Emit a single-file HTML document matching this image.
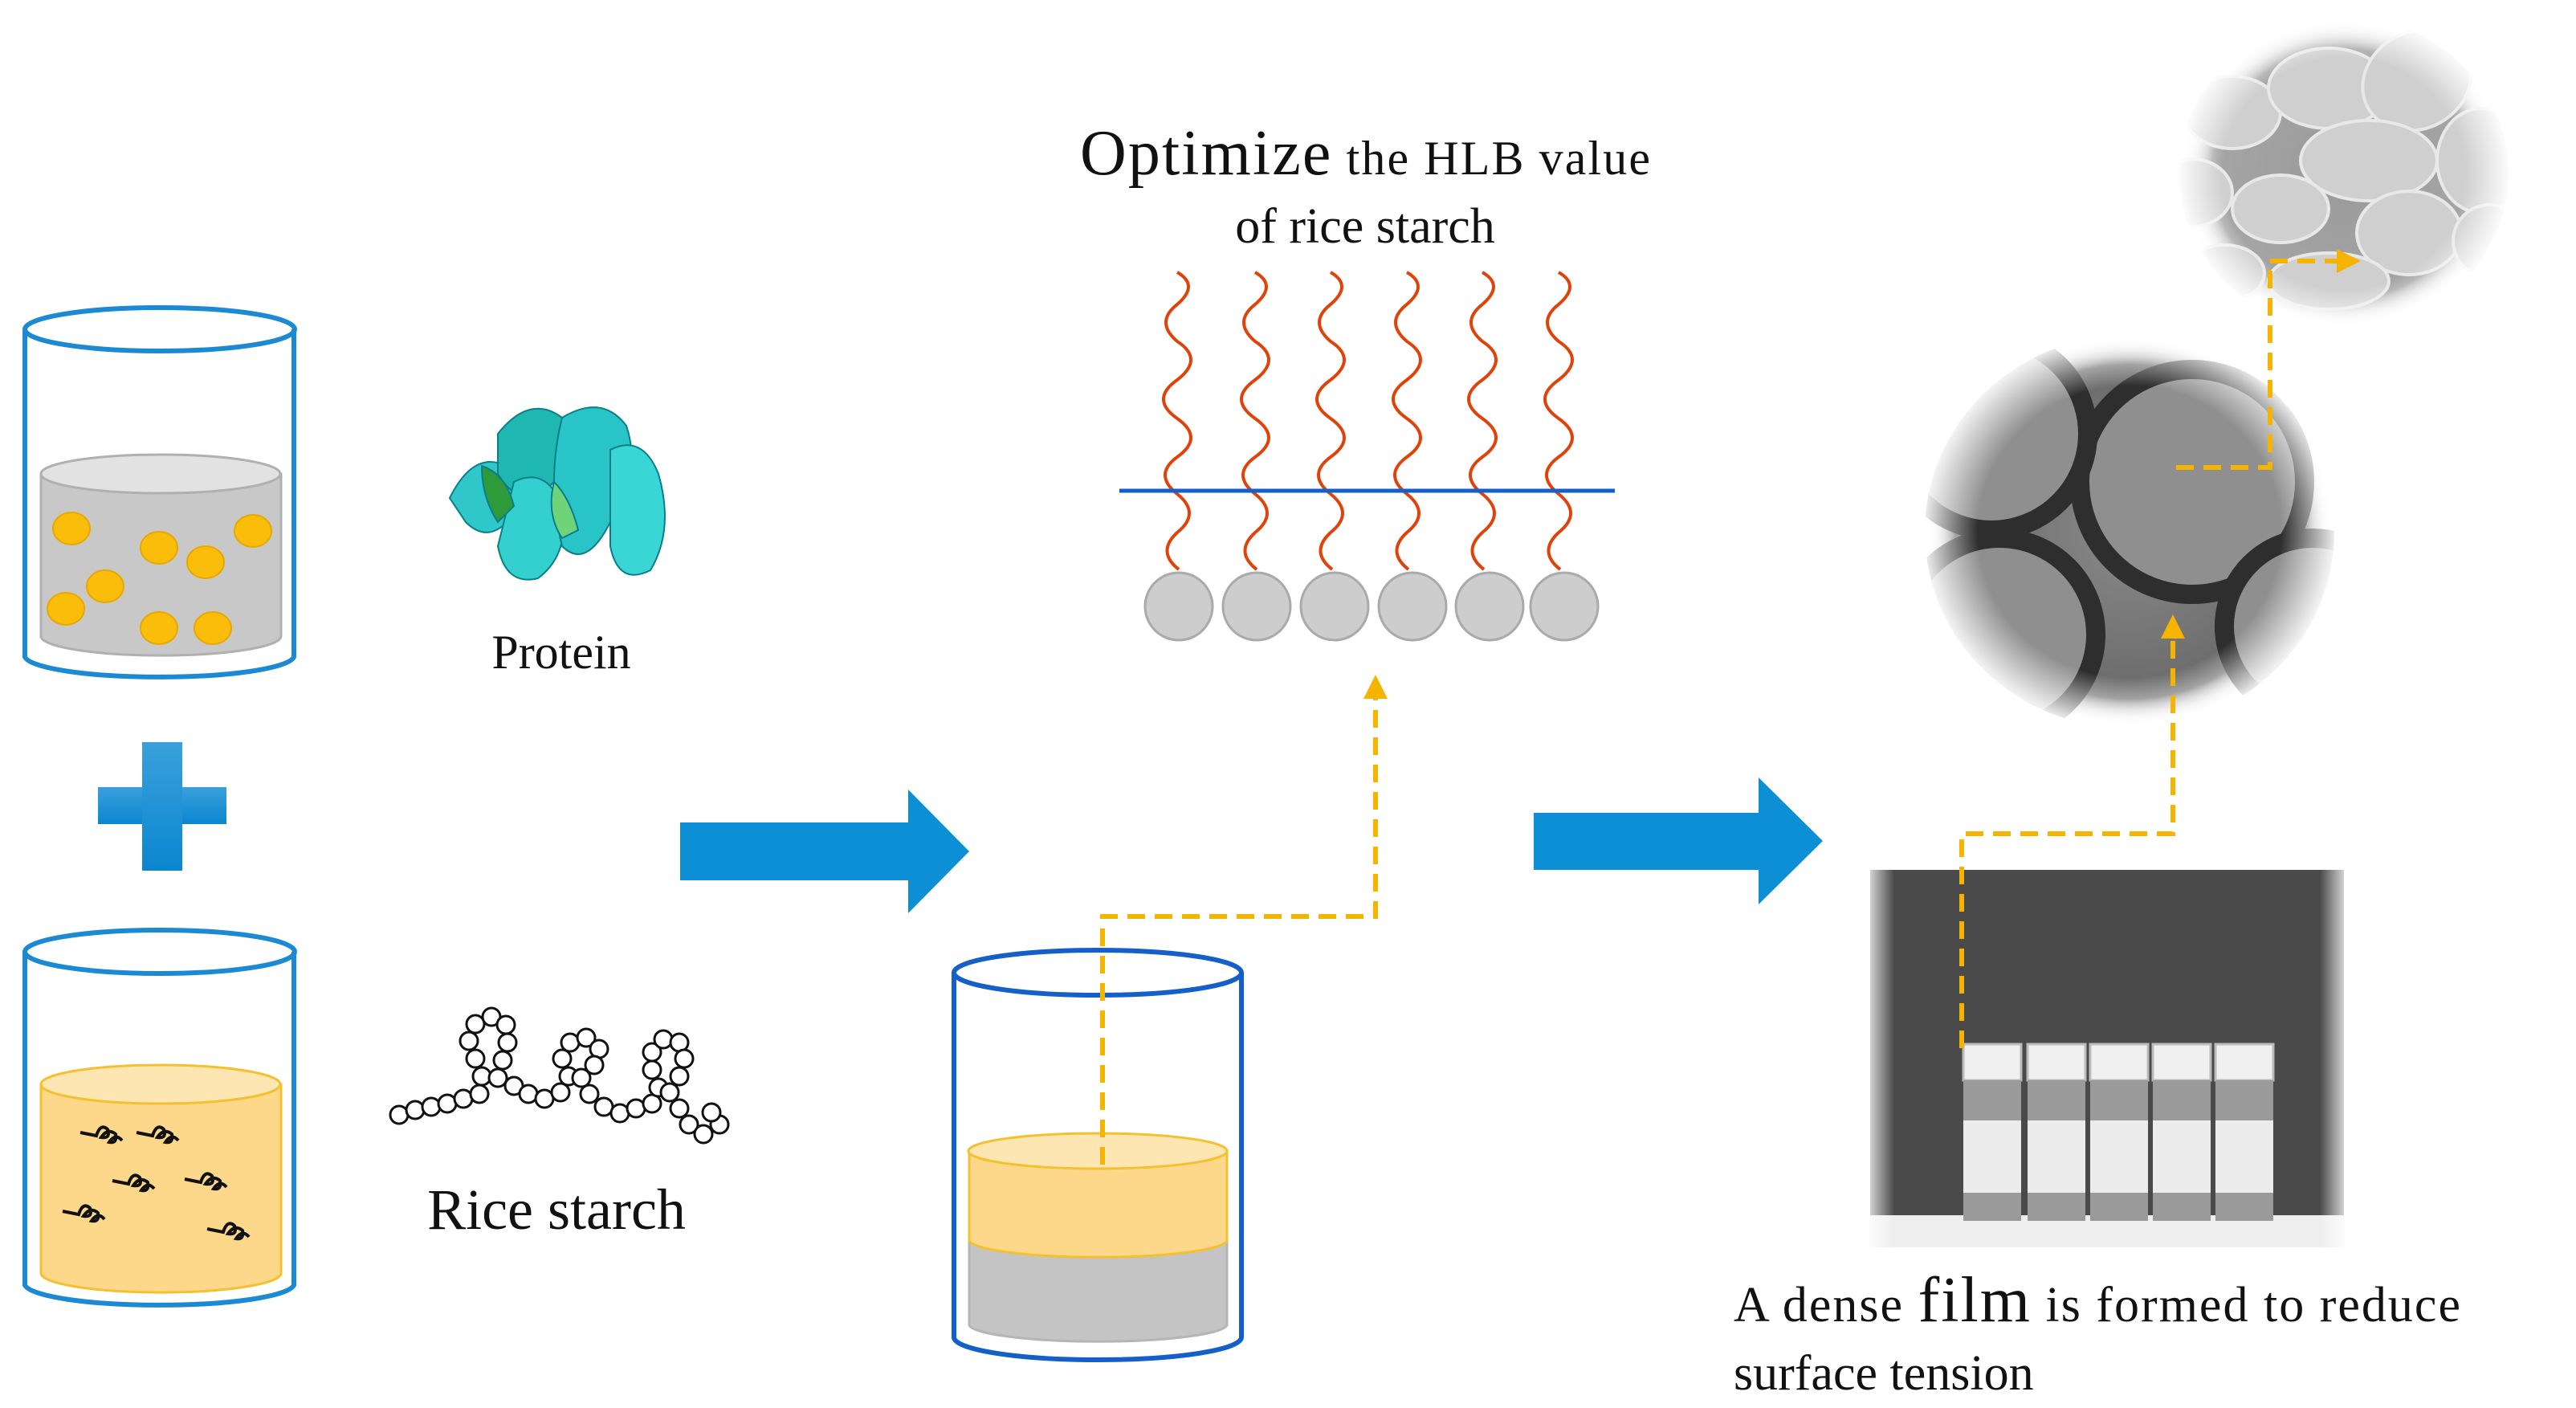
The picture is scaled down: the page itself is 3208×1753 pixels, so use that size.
<!DOCTYPE html>
<html><head><meta charset="utf-8"><style>
html,body{margin:0;padding:0;background:#fff;}
svg{display:block;}
text{font-family:"Liberation Serif",serif;fill:#111;}
</style></head><body>
<svg width="3208" height="1753" viewBox="0 0 3208 1753" xmlns="http://www.w3.org/2000/svg">
<defs>
<linearGradient id="blue" x1="0" y1="0" x2="0" y2="1"><stop offset="0" stop-color="#3aa0dc"/><stop offset="1" stop-color="#0a86cf"/></linearGradient>
<radialGradient id="sem" cx="0.5" cy="0.5" r="0.5"><stop offset="0" stop-color="#9a9a9a"/><stop offset="0.8" stop-color="#a5a5a5"/><stop offset="1" stop-color="#fff" stop-opacity="0"/></radialGradient>
<radialGradient id="tem" cx="0.5" cy="0.5" r="0.5"><stop offset="0" stop-color="#8a8a8a"/><stop offset="0.85" stop-color="#6a6a6a"/><stop offset="1" stop-color="#fff" stop-opacity="0"/></radialGradient>
<radialGradient id="semfade" cx="0.5" cy="0.5" r="0.5"><stop offset="0.72" stop-color="#fff" stop-opacity="0"/><stop offset="1" stop-color="#fff" stop-opacity="1"/></radialGradient>
<linearGradient id="vfadeL" x1="0" y1="0" x2="1" y2="0"><stop offset="0" stop-color="#fff"/><stop offset="1" stop-color="#fff" stop-opacity="0"/></linearGradient>
<linearGradient id="vfadeR" x1="1" y1="0" x2="0" y2="0"><stop offset="0" stop-color="#fff"/><stop offset="1" stop-color="#fff" stop-opacity="0"/></linearGradient>
<clipPath id="semclip"><ellipse cx="2919" cy="216" rx="205" ry="195"/></clipPath>
<clipPath id="temclip"><ellipse cx="2652" cy="662" rx="255" ry="245"/></clipPath>
<marker id="ah" viewBox="0 0 10 10" refX="5" refY="5" markerWidth="5" markerHeight="5" orient="auto"><path d="M0,0 L10,5 L0,10 z" fill="#f5b400"/></marker>
</defs>

<!-- Beaker 1 -->
<g>
<path d="M51,590 L51,792 A149,24 0 0 0 350,792 L350,590 Z" fill="#c8c8c8" stroke="#b0b0b0" stroke-width="3"/>
<ellipse cx="200" cy="590" rx="149" ry="24" fill="#e2e2e2" stroke="#b0b0b0" stroke-width="3"/>
<g fill="#f9bd0a" stroke="#e8a800" stroke-width="2">
<ellipse cx="89" cy="658" rx="23" ry="20"/><ellipse cx="198" cy="682" rx="23" ry="20"/><ellipse cx="256" cy="700" rx="23" ry="20"/><ellipse cx="315" cy="661" rx="23" ry="20"/>
<ellipse cx="131" cy="730" rx="23" ry="20"/><ellipse cx="82" cy="758" rx="23" ry="20"/><ellipse cx="198" cy="782" rx="23" ry="20"/><ellipse cx="265" cy="782" rx="23" ry="20"/>
</g>
<path d="M31,410 L31,818 A168,27 0 0 0 366,818 L366,410" fill="none" stroke="#1b8ad3" stroke-width="6"/>
<ellipse cx="199" cy="410" rx="168" ry="27" fill="none" stroke="#1b8ad3" stroke-width="6"/>
</g>

<!-- Plus -->
<rect x="122" y="980" width="160" height="46" fill="url(#blue)"/>
<rect x="177" y="924" width="50" height="160" fill="url(#blue)"/>

<!-- Beaker 2 -->
<g>
<path d="M51,1350 L51,1585 A149,24 0 0 0 350,1585 L350,1350 Z" fill="#fdd88a" stroke="#f5c030" stroke-width="3"/>
<ellipse cx="200" cy="1350" rx="149" ry="24" fill="#fee6b2" stroke="#f5c030" stroke-width="3"/>
<g fill="none" stroke="#111" stroke-width="4">
<path d="M100,1410 l20,4 q5,-16 14,-8 q4,12 -8,10 q8,-12 18,-4 q2,12 -8,10 q8,-12 16,-2 M170,1410 l20,4 q5,-16 14,-8 q4,12 -8,10 q8,-12 18,-4 q2,12 -8,10 q8,-12 16,-2"/>
<path d="M140,1470 l20,4 q5,-16 14,-8 q4,12 -8,10 q8,-12 18,-4 q2,12 -8,10 q8,-12 16,-2 M230,1468 l20,4 q5,-16 14,-8 q4,12 -8,10 q8,-12 18,-4 q2,12 -8,10 q8,-12 16,-2"/>
<path d="M78,1508 l20,4 q5,-16 14,-8 q4,12 -8,10 q8,-12 18,-4 q2,12 -8,10 q8,-12 16,-2 M258,1530 l20,4 q5,-16 14,-8 q4,12 -8,10 q8,-12 18,-4 q2,12 -8,10 q8,-12 16,-2"/>
</g>
<path d="M31,1185 L31,1600 A168,27 0 0 0 366,1600 L366,1185" fill="none" stroke="#1b8ad3" stroke-width="6"/>
<ellipse cx="199" cy="1185" rx="168" ry="27" fill="none" stroke="#1b8ad3" stroke-width="6"/>
</g>

<!-- Protein -->
<g stroke="#0a7f8a" stroke-width="2">
<path d="M560,620 q30,-60 70,-40 q40,20 10,60 q-30,40 -60,10 z" fill="#2fc7c9"/>
<path d="M620,540 q40,-50 80,-20 q30,40 -10,80 q-40,40 -70,-10 z" fill="#1fb8b0"/>
<path d="M640,600 q40,-20 60,30 q10,60 -30,90 q-40,10 -50,-40 z" fill="#34d0d0"/>
<path d="M700,520 q50,-30 80,10 q20,60 -20,120 q-30,60 -60,30 q-20,-80 0,-160 z" fill="#29c4c8"/>
<path d="M760,560 q40,-20 60,30 q20,70 -10,120 q-40,20 -50,-30 z" fill="#3ad6d6"/>
<path d="M600,580 q30,10 40,50 l-20,20 q-20,-30 -20,-70 z" fill="#2e9a3a"/>
<path d="M690,600 q20,20 30,60 l-20,10 q-20,-30 -10,-70z" fill="#6fd37a"/>
</g>
<text x="699" y="832" font-size="60" text-anchor="middle">Protein</text>

<!-- Rice starch chain -->
<g fill="#fff" stroke="#111" stroke-width="3">
<circle cx="497" cy="1388" r="11"/><circle cx="517" cy="1382" r="11"/><circle cx="537" cy="1378" r="11"/><circle cx="557" cy="1374" r="11"/><circle cx="577" cy="1368" r="11"/>
<circle cx="597" cy="1362" r="11"/><circle cx="600" cy="1340" r="11"/><circle cx="592" cy="1318" r="11"/><circle cx="584" cy="1296" r="11"/><circle cx="592" cy="1275" r="11"/><circle cx="612" cy="1266" r="11"/><circle cx="630" cy="1276" r="11"/><circle cx="632" cy="1298" r="11"/><circle cx="626" cy="1320" r="11"/><circle cx="620" cy="1342" r="11"/>
<circle cx="640" cy="1352" r="11"/><circle cx="658" cy="1362" r="11"/><circle cx="678" cy="1368" r="11"/><circle cx="698" cy="1360" r="11"/><circle cx="708" cy="1340" r="11"/><circle cx="700" cy="1318" r="11"/><circle cx="710" cy="1298" r="11"/><circle cx="730" cy="1292" r="11"/><circle cx="746" cy="1306" r="11"/><circle cx="740" cy="1326" r="11"/><circle cx="724" cy="1342" r="11"/>
<circle cx="734" cy="1362" r="11"/><circle cx="752" cy="1378" r="11"/><circle cx="772" cy="1386" r="11"/><circle cx="792" cy="1380" r="11"/><circle cx="812" cy="1374" r="11"/><circle cx="820" cy="1354" r="11"/><circle cx="812" cy="1332" r="11"/><circle cx="812" cy="1310" r="11"/><circle cx="826" cy="1294" r="11"/><circle cx="846" cy="1298" r="11"/><circle cx="852" cy="1318" r="11"/><circle cx="846" cy="1340" r="11"/><circle cx="834" cy="1360" r="11"/>
<circle cx="846" cy="1380" r="11"/><circle cx="858" cy="1400" r="11"/><circle cx="876" cy="1412" r="11"/><circle cx="896" cy="1400" r="11"/><circle cx="886" cy="1385" r="11"/>
</g>
<text x="693" y="1530" font-size="72" text-anchor="middle">Rice starch</text>

<!-- Big arrows -->
<path d="M847,1024 L1131,1024 L1131,983 L1207,1060 L1131,1137 L1131,1096 L847,1096 Z" fill="#0d8fd6"/>
<path d="M1910,1012 L2190,1012 L2190,968 L2270,1047 L2190,1126 L2190,1083 L1910,1083 Z" fill="#0d8fd6"/>

<!-- Title middle -->
<text x="1700" y="217" text-anchor="middle" textLength="710"><tspan font-size="80">Optimize</tspan><tspan font-size="60"> the HLB value</tspan></text>
<text x="1700" y="302" font-size="62" text-anchor="middle">of rice starch</text>

<!-- Amphiphiles -->
<g fill="none" stroke="#e0420a" stroke-width="4">
<path id="w" d="M0,0 q28,16 0,40 q-28,22 0,46 q34,22 0,48 q-34,24 0,48 q34,24 0,48 q-30,22 0,46 q30,24 0,48 q-26,24 2,46" transform="translate(1466,339)"/>
<use href="#w" transform="translate(97,0)"/><use href="#w" transform="translate(191,0)"/><use href="#w" transform="translate(286,0)"/><use href="#w" transform="translate(380,0)"/><use href="#w" transform="translate(475,0)"/>
</g>
<line x1="1394" y1="611" x2="2011" y2="611" stroke="#1560c8" stroke-width="5"/>
<g fill="#cdcdcd" stroke="#aaa" stroke-width="3">
<circle cx="1468" cy="755" r="42"/><circle cx="1565" cy="755" r="42"/><circle cx="1662" cy="755" r="42"/><circle cx="1759" cy="755" r="42"/><circle cx="1855" cy="755" r="42"/><circle cx="1948" cy="755" r="42"/>
</g>

<!-- Beaker 3 -->
<g>
<path d="M1207,1545 L1207,1650 A161,22 0 0 0 1528,1650 L1528,1545 Z" fill="#c4c4c4" stroke="#b5b5b5" stroke-width="3"/>
<path d="M1207,1433 L1207,1545 A161,22 0 0 0 1528,1545 L1528,1433 Z" fill="#fdd88a" stroke="#f5c030" stroke-width="3"/>
<ellipse cx="1367" cy="1433" rx="161" ry="22" fill="#fee6b2" stroke="#f5c030" stroke-width="3"/>
<path d="M1188,1211 L1188,1665 A179,28 0 0 0 1546,1665 L1546,1211" fill="none" stroke="#1560c8" stroke-width="6"/>
<ellipse cx="1367" cy="1211" rx="179" ry="28" fill="none" stroke="#1560c8" stroke-width="6"/>
</g>
<polyline points="1373,1450 1373,1141 1713,1141 1713,855" fill="none" stroke="#f5b400" stroke-width="6" stroke-dasharray="22,12" marker-end="url(#ah)"/>

<!-- SEM image -->
<ellipse cx="2919" cy="216" rx="205" ry="195" fill="url(#sem)"/>
<g clip-path="url(#semclip)" fill="#cfcfcf" stroke="#e8e8e8" stroke-width="4">
<ellipse cx="2780" cy="140" rx="60" ry="45"/><ellipse cx="2900" cy="110" rx="75" ry="50"/><ellipse cx="3010" cy="100" rx="70" ry="60" transform="rotate(-30 3010 100)"/>
<ellipse cx="2950" cy="200" rx="85" ry="50"/><ellipse cx="3090" cy="200" rx="55" ry="65"/><ellipse cx="2840" cy="260" rx="60" ry="42"/>
<ellipse cx="2730" cy="240" rx="50" ry="42"/><ellipse cx="3000" cy="290" rx="65" ry="52"/><ellipse cx="3100" cy="300" rx="45" ry="45"/><ellipse cx="2900" cy="350" rx="75" ry="35"/><ellipse cx="2770" cy="340" rx="50" ry="35"/>
</g>
<ellipse cx="2919" cy="216" rx="210" ry="200" fill="url(#semfade)"/>

<!-- TEM image -->
<ellipse cx="2652" cy="662" rx="255" ry="245" fill="url(#tem)"/>
<g clip-path="url(#temclip)" fill="#8f8f8f" stroke="#2e2e2e" stroke-width="24">
<circle cx="2730" cy="600" r="140"/><circle cx="2480" cy="540" r="120"/><circle cx="2490" cy="790" r="120"/><circle cx="2880" cy="780" r="110"/>
</g>
<ellipse cx="2652" cy="662" rx="262" ry="252" fill="url(#semfade)"/>

<!-- Vials photo -->
<rect x="2329" y="1083" width="590" height="430" fill="#4a4a4a"/>
<rect x="2329" y="1513" width="590" height="40" fill="#eee"/>
<g>
<g fill="#f0f0f0" stroke="#bbb" stroke-width="3">
<rect x="2445" y="1300" width="72" height="45"/><rect x="2525" y="1300" width="72" height="45"/><rect x="2603" y="1300" width="72" height="45"/><rect x="2681" y="1300" width="72" height="45"/><rect x="2759" y="1300" width="72" height="45"/>
</g>
<g fill="#9a9a9a"><rect x="2445" y="1345" width="72" height="175"/><rect x="2525" y="1345" width="72" height="175"/><rect x="2603" y="1345" width="72" height="175"/><rect x="2681" y="1345" width="72" height="175"/><rect x="2759" y="1345" width="72" height="175"/></g>
<g fill="#ececec"><rect x="2445" y="1395" width="72" height="90"/><rect x="2525" y="1395" width="72" height="90"/><rect x="2603" y="1395" width="72" height="90"/><rect x="2681" y="1395" width="72" height="90"/><rect x="2759" y="1395" width="72" height="90"/></g>
</g>
<rect x="2319" y="1075" width="40" height="490" fill="url(#vfadeL)"/>
<rect x="2889" y="1075" width="40" height="490" fill="url(#vfadeR)"/>
<polyline points="2443,1305 2443,1038 2706,1038 2706,780" fill="none" stroke="#f5b400" stroke-width="6" stroke-dasharray="22,12" marker-end="url(#ah)"/>
<polyline points="2710,582 2827,582 2827,325 2925,325" fill="none" stroke="#f5b400" stroke-width="6" stroke-dasharray="22,12" marker-end="url(#ah)"/>

<text x="2159" y="1645" font-size="62" textLength="905">A dense <tspan font-size="80">film</tspan> is formed to reduce</text>
<text x="2159" y="1730" font-size="62">surface tension</text>
</svg>
</body></html>
